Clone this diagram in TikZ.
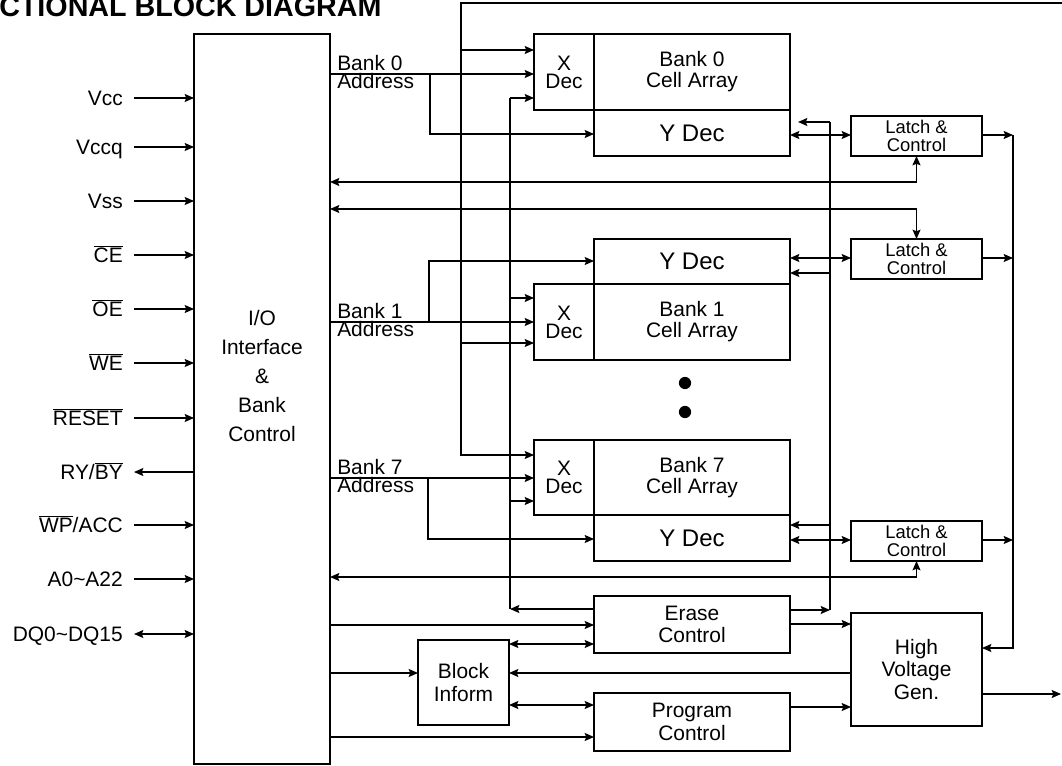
\documentclass[tikz,border=0pt]{standalone}
\usepackage{fontspec}
\setmainfont{Liberation Sans}
\usetikzlibrary{arrows.meta,calc}
\newcommand\ovl[1]{$\overline{\hbox{#1}}$}
\begin{document}
\begin{tikzpicture}[x=0.75pt,y=-0.75pt,
  >={Stealth[length=7pt,width=6pt,inset=1.2pt]},
  conn/.style={line width=1pt},
  sz/.style 2 args={minimum width=#1*0.75pt,minimum height=#2*0.75pt},
  box/.style={draw,line width=2pt,inner sep=0pt,outer sep=0pt,align=center,font=\fontsize{15.7}{16.9}\selectfont},
  xdecbox/.style={box,sz={60}{76},font=\fontsize{15.7}{13.5}\selectfont},
  cellbox/.style={box,sz={196}{76},font=\fontsize{15.7}{15.75}\selectfont},
  ydecbox/.style={box,sz={196}{46},font=\fontsize{18}{18}\selectfont},
  latchbox/.style={box,sz={131}{40},font=\fontsize{13.8}{13.9}\selectfont},
  siglbl/.style={anchor=east,inner xsep=8.25pt,inner ysep=0pt,text height=11.25pt,text depth=0pt,font=\fontsize{15.7}{16}\selectfont},
  addrlbl/.style={inner sep=0pt,font=\fontsize{15.7}{16}\selectfont}
]
\useasboundingbox (0,0) rectangle (1062,766);
\clip (0,0) rectangle (1062,766);

% title
\node[anchor=base west,inner sep=0pt,font=\bfseries\fontsize{21.5}{21.5}\selectfont] (title) at (-1,16.5) {CTIONAL BLOCK DIAGRAM};

% I/O block
\node[box,sz={136}{730}] (io) at (262,399) {};
\node[align=center,inner sep=0pt,font=\fontsize{15.7}{21.75}\selectfont] (iotext) at (262,376) {I/O\\Interface\\\&\\Bank\\Control};

% Bank 0
\node[xdecbox] (xdec0) at (564,72) {X\\Dec};
\node[cellbox] (cell0) at (692,72) {Bank 0\\Cell Array};
\node[ydecbox] (ydec0) at (692,133) {Y Dec};
\node[latchbox] (latch0) at (916.5,136) {Latch \&\\Control};

% Bank 1
\node[ydecbox,sz={196}{45}] (ydec1) at (692,261.5) {Y Dec};
\node[xdecbox] (xdec1) at (564,322) {X\\Dec};
\node[cellbox] (cell1) at (692,322) {Bank 1\\Cell Array};
\node[latchbox] (latch1) at (916.5,259) {Latch \&\\Control};

% dots
\fill (685,383) circle[radius=4.6pt];
\fill (685,412) circle[radius=4.6pt];

% Bank 7
\node[xdecbox,sz={60}{75}] (xdec7) at (564,477.5) {X\\Dec};
\node[cellbox,sz={196}{75}] (cell7) at (692,477.5) {Bank 7\\Cell Array};
\node[ydecbox] (ydec7) at (692,538) {Y Dec};
\node[latchbox] (latch7) at (916.5,541) {Latch \&\\Control};

% bottom blocks
\node[box,sz={196}{57}] (erase) at (692,624.5) {Erase\\Control};
\node[box,sz={91}{85}] (block) at (463.5,682.5) {Block\\Inform};
\node[box,sz={196}{58}] (prog) at (692,722) {Program\\Control};
\node[box,sz={131}{113}] (hvg) at (916.5,669.5) {High\\Voltage\\Gen.};

% signal labels
\node[siglbl] (lvcc) at (134,98) {Vcc};
\node[siglbl] (lvccq) at (134,147) {Vccq};
\node[siglbl] (lvss) at (134,201) {Vss};
\node[siglbl] (lce) at (134,255) {\ovl{CE}};
\node[siglbl] (loe) at (134,309) {\ovl{OE}};
\node[siglbl] (lwe) at (134,363) {\ovl{WE}};
\node[siglbl] (lreset) at (134,418) {\ovl{RESET}};
\node[siglbl] (lry) at (134,472) {RY/\ovl{BY}};
\node[siglbl] (lwp) at (134,525) {\ovl{WP}/ACC};
\node[siglbl] (la) at (134,579) {A0\textasciitilde A22};
\node[siglbl] (ldq) at (134,634) {DQ0\textasciitilde DQ15};

\foreach \s in {lvcc,lvccq,lvss,lce,loe,lwe,lreset,lwp,la}
  \draw[conn,->] (\s.east) -- (io.west |- \s.east);
\draw[conn,->] (io.west |- lry.east) -- (lry.east);
\draw[conn,<->] (ldq.east) -- (io.west |- ldq.east);

% address labels
\node[addrlbl,anchor=base west] (b0a) at (337,71) {Bank 0};
\node[addrlbl,anchor=base west] (b0b) at (337,89) {Address};
\node[addrlbl,anchor=base west] (b1a) at (337,318) {Bank 1};
\node[addrlbl,anchor=base west] (b1b) at (337,336) {Address};
\node[addrlbl,anchor=base west] (b7a) at (337,474) {Bank 7};
\node[addrlbl,anchor=base west] (b7b) at (337,492) {Address};

% junction coordinates
\coordinate (j0) at (430,74);
\coordinate (j1) at (429,322);
\coordinate (j7) at (428,478);
\coordinate (topR) at (1062,3);
\coordinate (busA) at (461,455);
\coordinate (busB) at (510,609);
\coordinate (busC) at (830,610);
\coordinate (busD) at (1013,648);
\coordinate (outR) at (1061,694);

% bank addresses
\draw[conn,->] (io.east |- j0) -- (xdec0.west |- j0);
\draw[conn,->] (j0) |- (ydec0.west |- 0,134);
\draw[conn,->] (io.east |- j1) -- (xdec1.west |- j1);
\draw[conn,->] (j1) |- (ydec1.west |- 0,261);
\draw[conn,->] (io.east |- j7) -- (xdec7.west |- j7);
\draw[conn,->] (j7) |- (ydec7.west |- 0,539);

% top bus
\draw[conn,->] (topR) -| (busA) -- (xdec7.west |- busA);
\draw[conn,->] (461,50) -- (xdec0.west |- 0,50);
\draw[conn,->] (461,343) -- (xdec1.west |- 0,343);

% erase bus left
\draw[conn,->] (erase.west |- busB) -- (busB);
\draw[conn] (busB) -- (510,98);
\draw[conn,->] (510,98) -- (xdec0.west |- 0,98);
\draw[conn,->] (510,298) -- (xdec1.west |- 0,298);
\draw[conn,->] (510,501) -- (xdec7.west |- 0,501);

% erase bus right
\draw[conn,->] (erase.east |- busC) -- (busC);
\draw[conn] (busC) -- (830,122);
\draw[conn,->] (830,122) -- ([xshift=6pt]ydec0.east |- 0,122);
\draw[conn,->] (830,273) -- (ydec1.east |- 0,273);
\draw[conn,->] (830,525) -- (ydec7.east |- 0,525);

% latches
\draw[conn,<->] (ydec0.east |- 0,135) -- (latch0.west |- 0,135);
\draw[conn,<->] (ydec1.east |- 0,258) -- (latch1.west |- 0,258);
\draw[conn,<->] (ydec7.east |- 0,540) -- (latch7.west |- 0,540);
\draw[conn,->] (latch0.east |- 0,135) -- (1013,135);
\draw[conn,->] (latch1.east |- 0,258) -- (1013,258);
\draw[conn,->] (latch7.east |- 0,540) -- (1013,540);
\draw[conn,->] (1013,135) -- (busD) -- (hvg.east |- busD);

\draw[conn,<->] (io.east |- 0,182) -| (latch0.south);
\draw[conn,<->] (io.east |- 0,209) -| (latch1.north);
\draw[conn,<->] (io.east |- 0,577) -| (latch7.south);

% bottom
\draw[conn,->] (io.east |- 0,625) -- (erase.west |- 0,625);
\draw[conn,->] (erase.east |- 0,624) -- (hvg.west |- 0,624);
\draw[conn,<->] (block.east |- 0,644) -- (erase.west |- 0,644);
\draw[conn,->] (io.east |- 0,673) -- (block.west |- 0,673);
\draw[conn,->] (hvg.west |- 0,673) -- (block.east |- 0,673);
\draw[conn,<->] (block.east |- 0,705) -- (prog.west |- 0,705);
\draw[conn,->] (io.east |- 0,737) -- (prog.west |- 0,737);
\draw[conn,->] (prog.east |- 0,707) -- (hvg.west |- 0,707);
\draw[conn,->] (hvg.east |- outR) -- (outR);
\end{tikzpicture}
\end{document}
